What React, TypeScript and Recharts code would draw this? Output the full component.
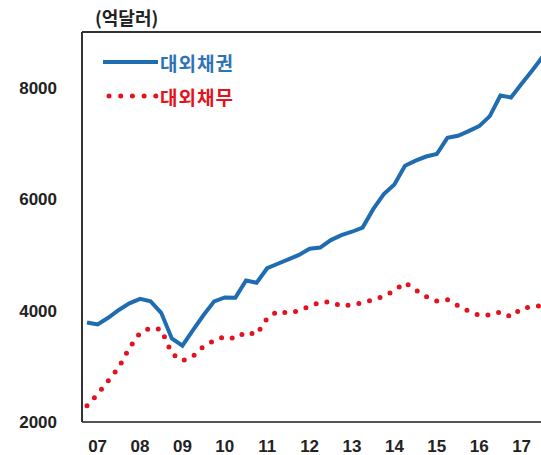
import { LineChart, Line, XAxis, YAxis, Legend, ReferenceLine } from "recharts";

const years = ["07", "08", "09", "10", "11", "12", "13", "14", "15", "16", "17"];

// 대외채권 (quarterly, 억달러)
const claims = [
  3785, 3750, 3870, 4010, 4130, 4210, 4165, 3960, 3500, 3370, 3650, 3920, 4165, 4235, 4232,
  4540, 4500, 4760, 4840, 4920, 5000, 5110, 5130, 5265, 5355, 5415, 5490, 5820, 6090, 6265,
  6600, 6690, 6765, 6810, 7100, 7138, 7220, 7310, 7490, 7860, 7825, 8070, 8310, 8560,
];

// 대외채무
const debt = [
  2290, 2500, 2740, 2980, 3330, 3600, 3690, 3660, 3230, 3100, 3180, 3360, 3460, 3535, 3495,
  3615, 3570, 3860, 3990, 3955, 4000, 4075, 4150, 4155, 4080, 4105, 4140, 4195, 4255, 4360,
  4500, 4370, 4250, 4170, 4195, 4090, 3990, 3915, 3920, 3975, 3890, 4040, 4070, 4090,
];

const yTicks = [2000, 4000, 6000, 8000];

const data = claims.map((c, i) => ({ t: i, claims: c, debt: debt[i] }));
const xTicks = years.map((_, k) => 1 + k * 4);

const BLUE = "#1f6cb0";
const RED = "#e3121e";
const KR = "'Noto Sans CJK KR', 'Noto Sans', sans-serif";

function ChartLegend() {
  return (
    <div style={{ fontFamily: KR, fontWeight: 700, fontSize: 19 }}>
      <div style={{ display: "flex", alignItems: "center", height: 34 }}>
        <svg width={57} height={20}>
          <line x1={0} y1={10} x2={55} y2={10} stroke={BLUE} strokeWidth={4} />
        </svg>
        <span style={{ color: "#2e74b5", letterSpacing: 1 }}>대외채권</span>
      </div>
      <div style={{ display: "flex", alignItems: "center", height: 34 }}>
        <svg width={57} height={20}>
          <line
            x1={6}
            y1={10}
            x2={55}
            y2={10}
            stroke={RED}
            strokeWidth={5}
            strokeDasharray="0 11.7"
            strokeLinecap="round"
          />
        </svg>
        <span style={{ color: RED, letterSpacing: 1 }}>대외채무</span>
      </div>
    </div>
  );
}

export default function App() {
  const tickStyle = {
    fontSize: 17,
    fontWeight: 700,
    fill: "#222",
    fontFamily: "'Liberation Sans', Arial, sans-serif",
  };
  return (
    <div
      style={{
        position: "absolute",
        left: 0,
        top: 0,
        width: 541,
        height: 455,
        overflow: "hidden",
        background: "#fff",
      }}
    >
      <div
        style={{
          position: "absolute",
          left: 95,
          top: 4,
          fontFamily: KR,
          fontWeight: 700,
          fontSize: 18,
          color: "#222",
        }}
      >
        (억달러)
      </div>
      <LineChart width={541} height={455} data={data} margin={{ top: 32, right: 0, left: 0, bottom: 0 }}>
        <XAxis
          dataKey="t"
          type="number"
          domain={[-0.472, 42.83]}
          allowDataOverflow
          ticks={xTicks}
          tickFormatter={(v: number) => years[(v - 1) / 4] ?? ""}
          tick={tickStyle}
          tickSize={0}
          tickMargin={18}
          height={33}
          axisLine={{ stroke: "#555", strokeWidth: 2 }}
          tickLine={false}
          interval={0}
        />
        <YAxis
          domain={[2000, 9000]}
          ticks={yTicks}
          tick={tickStyle}
          tickSize={0}
          tickMargin={25}
          width={82}
          axisLine={{ stroke: "#333", strokeWidth: 2 }}
          tickLine={false}
          interval={0}
        />
        <ReferenceLine y={9000} stroke="#333" strokeWidth={2} />
        <Legend
          layout="horizontal"
          verticalAlign="middle"
          align="center"
          wrapperStyle={{ top: 45, left: 103, width: "auto" }}
          content={() => <ChartLegend />}
        />
        <Line
          type="linear"
          dataKey="debt"
          stroke={RED}
          strokeWidth={5}
          strokeDasharray="0 11"
          strokeLinecap="round"
          dot={false}
          activeDot={false}
          isAnimationActive={false}
        />
        <Line
          type="linear"
          dataKey="claims"
          stroke={BLUE}
          strokeWidth={4}
          dot={false}
          activeDot={false}
          isAnimationActive={false}
        />
      </LineChart>
    </div>
  );
}
